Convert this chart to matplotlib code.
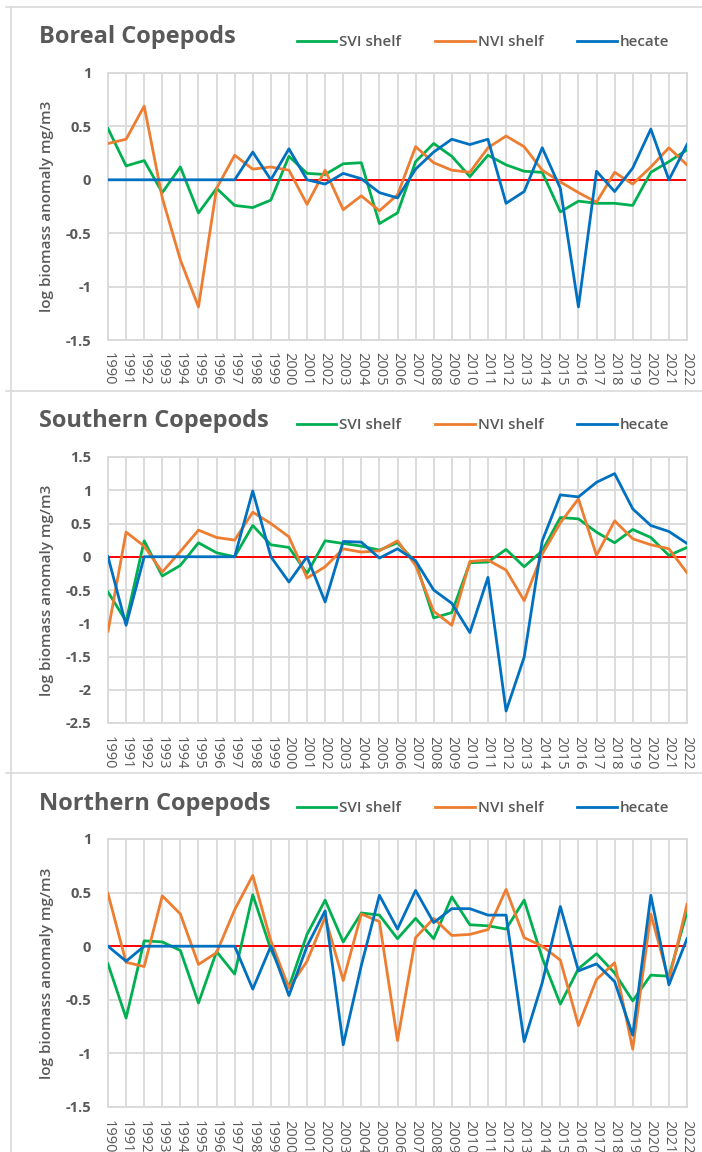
import matplotlib
matplotlib.use("Agg")
import matplotlib.pyplot as plt
from matplotlib.lines import Line2D

plt.rcParams['font.family'] = ['Open Sans', 'DejaVu Sans']

years = list(range(1990, 2023))
year_labels = [str(y) for y in years]

# Boreal copepods
boreal_svi = [0.48, 0.13, 0.18, -0.12, 0.12, -0.31, -0.08, -0.24, -0.26, -0.19, 0.22,
              0.06, 0.05, 0.15, 0.16, -0.41, -0.31, 0.17, 0.34, 0.22, 0.03, 0.23,
              0.14, 0.08, 0.07, -0.30, -0.20, -0.22, -0.22, -0.24, 0.07, 0.17, 0.28]
boreal_nvi = [0.34, 0.38, 0.69, -0.17, -0.75, -1.19, -0.08, 0.23, 0.10, 0.12, 0.09,
              -0.23, 0.09, -0.28, -0.15, -0.29, -0.14, 0.31, 0.16, 0.09, 0.07, 0.30,
              0.41, 0.31, 0.09, -0.02, -0.12, -0.21, 0.07, -0.04, 0.12, 0.30, 0.14]
boreal_hec = [0, 0, 0, 0, 0, 0, 0, 0, 0.26, 0, 0.29,
              0, -0.04, 0.06, 0.01, -0.12, -0.17, 0.10, 0.26, 0.38, 0.33, 0.38,
              -0.22, -0.11, 0.30, -0.08, -1.19, 0.08, -0.11, 0.11, 0.475, 0.0, 0.33]

# Southern copepods
south_svi = [-0.53, -0.97, 0.24, -0.29, -0.13, 0.21, 0.06, 0.0, 0.47, 0.18, 0.14,
             -0.25, 0.24, 0.20, 0.16, 0.10, 0.21, -0.08, -0.92, -0.84, -0.09, -0.08,
             0.11, -0.15, 0.09, 0.59, 0.57, 0.37, 0.21, 0.41, 0.29, 0.02, 0.14]
south_nvi = [-1.12, 0.37, 0.16, -0.23, 0.08, 0.40, 0.29, 0.25, 0.67, 0.50, 0.30,
             -0.32, -0.15, 0.12, 0.07, 0.09, 0.24, -0.13, -0.82, -1.03, -0.07, -0.05,
             -0.20, -0.66, 0.04, 0.51, 0.87, 0.02, 0.54, 0.27, 0.18, 0.12, -0.24]
south_hec = [0, -1.03, 0, 0, 0, 0, 0, 0, 0.99, 0, -0.38,
             0, -0.68, 0.23, 0.22, -0.02, 0.12, -0.06, -0.50, -0.70, -1.14, -0.31,
             -2.32, -1.51, 0.24, 0.93, 0.90, 1.12, 1.25, 0.72, 0.47, 0.38, 0.20]

# Northern copepods
north_svi = [-0.165, -0.67, 0.05, 0.04, -0.04, -0.53, -0.05, -0.26, 0.48, -0.03, -0.38,
             0.11, 0.43, 0.04, 0.31, 0.29, 0.07, 0.26, 0.07, 0.46, 0.20, 0.19,
             0.16, 0.43, -0.11, -0.54, -0.21, -0.07, -0.25, -0.51, -0.27, -0.28, 0.32]
north_nvi = [0.49, -0.15, -0.19, 0.47, 0.30, -0.17, -0.06, 0.34, 0.66, 0.05, -0.39,
             -0.14, 0.27, -0.32, 0.30, 0.23, -0.88, 0.08, 0.26, 0.10, 0.11, 0.155,
             0.53, 0.08, 0.0, -0.13, -0.74, -0.31, -0.155, -0.96, 0.30, -0.32, 0.39]
north_hec = [0, -0.14, 0, 0, 0, 0, 0, 0, -0.40, 0, -0.46,
             0, 0.33, -0.92, -0.18, 0.475, 0.16, 0.52, 0.22, 0.35, 0.35, 0.29,
             0.29, -0.89, -0.34, 0.37, -0.23, -0.165, -0.33, -0.83, 0.475, -0.36, 0.07]

titles = ["Boreal Copepods", "Southern Copepods", "Northern Copepods"]
series = [(boreal_svi, boreal_nvi, boreal_hec),
          (south_svi, south_nvi, south_hec),
          (north_svi, north_nvi, north_hec)]
ylims = [(-1.5, 1), (-2.5, 1.5), (-1.5, 1)]
yticks = [[1, 0.5, 0, -0.5, -1, -1.5],
          [1.5, 1, 0.5, 0, -0.5, -1, -1.5, -2, -2.5],
          [1, 0.5, 0, -0.5, -1, -1.5]]
ytick_labels = [["1", "0.5", "0", "-0.5", "-1", "-1.5"],
                ["1.5", "1", "0.5", "0", "-0.5", "-1", "-1.5", "-2", "-2.5"],
                ["1", "0.5", "0", "-0.5", "-1", "-1.5"]]
names = ["SVI shelf", "NVI shelf", "hecate"]
colors = ["#00b050", "#ed7d31", "#0070c0"]

W, H = 702, 1152
fig = plt.figure(figsize=(W / 100, H / 100), dpi=100)
gray = "#595959"
grid = "#d9d9d9"

# pixel boxes of the plot areas: (left, top, right, bottom)
boxes = [(108, 73, 687, 340), (108, 457, 687, 723), (108, 839, 687, 1107)]
title_y = [37, 421, 804]
legend_y = [42, 425, 808]

for i in range(3):
    l, t, r, b = boxes[i]
    ax = fig.add_axes([l / W, 1 - b / H, (r - l) / W, (b - t) / H])
    ax.set_xlim(years[0], years[-1])
    ax.set_ylim(*ylims[i])
    ax.set_xticks(years)
    ax.set_xticklabels(year_labels, rotation=270, fontsize=10.5, color=gray, va="top")
    ax.set_yticks(yticks[i])
    ax.set_yticklabels(ytick_labels[i], fontsize=10.5, color=gray, fontweight="bold")
    ax.tick_params(axis="both", length=0)
    ax.tick_params(axis="y", pad=12)
    ax.tick_params(axis="x", pad=9)
    ax.grid(True, color=grid, linewidth=1.3)
    ax.set_axisbelow(True)
    for s in ax.spines.values():
        s.set_color(grid)
        s.set_linewidth(1.3)
    ax.axhline(0, color="#ff0000", linewidth=1.4, zorder=2)
    for vals, name, c in zip(series[i], names, colors):
        ax.plot(years, vals, color=c, linewidth=2.0, label=name, zorder=3)
    fig.text(47 / W, 1 - (t + b) / 2 / H, "log biomass anomaly mg/m3", rotation=90,
             ha="center", va="center", fontsize=11, color=gray, fontweight="semibold")
    fig.text(39 / W, 1 - title_y[i] / H, titles[i], fontsize=17, fontweight="bold",
             color=gray, ha="left", va="center")
    handles = [Line2D([0], [0], color=c, linewidth=2.0) for c in colors]
    leg = fig.legend(handles, names, loc="center", bbox_to_anchor=(483 / W, 1 - legend_y[i] / H),
                     ncol=3, frameon=False, handlelength=2.6, handletextpad=0.2,
                     columnspacing=2.2, labelcolor=gray,
                     prop={"size": 11, "weight": "semibold"})

# separators between the chart boxes
for yy in [7, 391, 773]:
    fig.add_artist(Line2D([6 / W, 1], [1 - yy / H, 1 - yy / H], color="#d9d9d9", linewidth=1.2))
fig.add_artist(Line2D([11 / W, 11 / W], [0, 1 - 7 / H], color="#d9d9d9", linewidth=1.2))

fig.savefig("out.png", dpi=100)
